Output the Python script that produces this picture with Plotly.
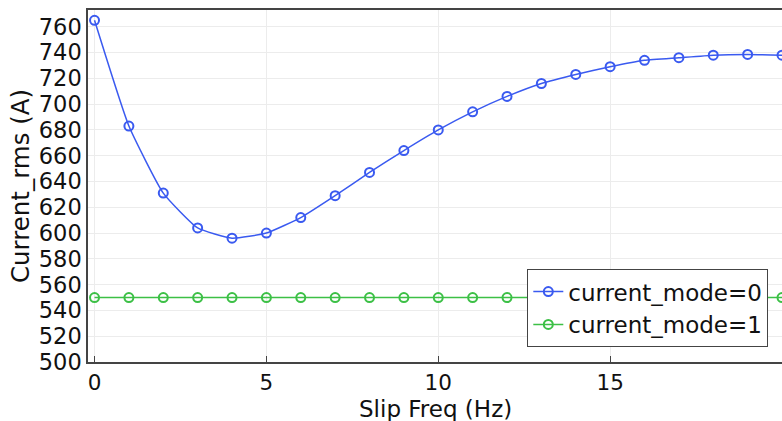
import plotly.graph_objects as go

slip_freq = list(range(0, 21))
mode0 = [765, 683, 631, 604, 596, 600, 612, 629, 647, 664, 680, 694, 706, 716, 723, 729, 734, 736, 738, 738.5, 738]
mode1 = [550] * 21
x_ticks = [0, 5, 10, 15]
y_ticks = list(range(500, 761, 20))

blue = "#3a5af0"
green = "#3cc046"

fig = go.Figure()
fig.add_trace(go.Scatter(
    x=slip_freq, y=mode0, name="current_mode=0", mode="lines+markers",
    line=dict(color=blue, width=1.5, shape="spline", smoothing=0.45),
    marker=dict(symbol="circle-open", size=9, color=blue, line=dict(width=2, color=blue)),
))
fig.add_trace(go.Scatter(
    x=slip_freq, y=mode1, name="current_mode=1", mode="lines+markers",
    line=dict(color=green, width=1.5),
    marker=dict(symbol="circle-open", size=9, color=green, line=dict(width=2, color=green)),
))

fig.update_layout(
    width=782, height=421,
    margin=dict(l=88, r=0, t=10, b=59),
    paper_bgcolor="white", plot_bgcolor="white",
    font=dict(family="DejaVu Sans", color="#111111"),
    showlegend=True,
    legend=dict(
        x=0.633, y=0.264, xanchor="left", yanchor="top",
        bgcolor="white", bordercolor="#444444", borderwidth=1,
        font=dict(size=23, family="DejaVu Sans", color="#111111"),
        tracegroupgap=0, itemwidth=30,
    ),
    annotations=[dict(
        text="Slip Freq (Hz)", xref="paper", yref="paper",
        x=0.5, y=-0.134, xanchor="center", yanchor="middle",
        showarrow=False, font=dict(size=23, family="DejaVu Sans", color="#111111"),
    )],
)
fig.update_xaxes(
    range=[-0.19, 20.0], tickvals=x_ticks, ticktext=[str(v) for v in x_ticks],
    showgrid=True, gridcolor="#ececec", gridwidth=1, zeroline=False,
    showline=True, linecolor="#444444", linewidth=1.5, mirror=True,
    ticks="inside", ticklen=6, tickcolor="#444444",
    tickfont=dict(size=21.5),
)
fig.update_yaxes(
    range=[500, 773], tickvals=y_ticks,
    showgrid=True, gridcolor="#ececec", gridwidth=1, zeroline=False,
    showline=True, linecolor="#444444", linewidth=1.5, mirror=False,
    ticks="", tickfont=dict(size=22.5),
    title=dict(text="Current_rms (A)", font=dict(size=24.5), standoff=2),
)

fig.write_html(
    "out.html",
    config={"displayModeBar": False},
    post_script="document.body.style.margin='0';document.body.style.padding='0';",
)
